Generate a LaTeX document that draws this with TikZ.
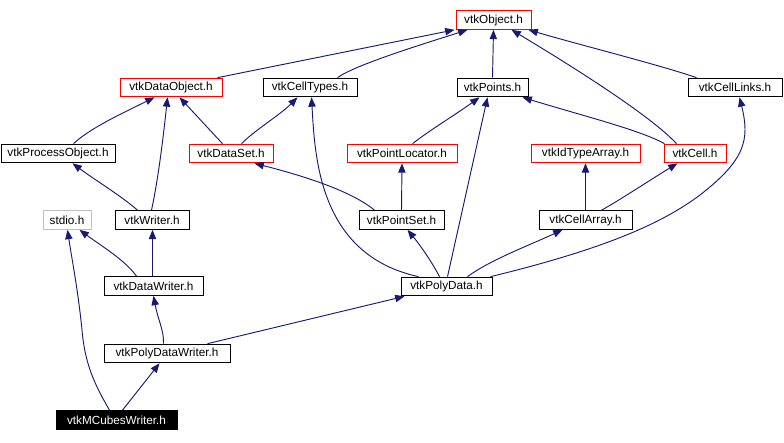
\documentclass[tikz,border=0pt]{standalone}
\usepackage{fontspec}
\setmainfont{Liberation Sans}
\usetikzlibrary{arrows.meta,calc}
\definecolor{edgecol}{HTML}{191970}
\definecolor{graybd}{HTML}{BFBFBF}
\tikzset{
  cls/.style={draw=black, line width=0.75pt, inner sep=0pt, minimum height=14pt, font=\fontsize{8.8}{10}\selectfont, fill=white},
  redcls/.style={cls, draw=red},
  graycls/.style={cls, draw=graybd},
  focus/.style={cls, fill=black, text=white},
  edge/.style={draw=edgecol, line width=0.7pt, {Triangle[length=7pt,width=5.5pt]}-}
}
\begin{document}
\begin{tikzpicture}[x=0.75pt,y=-0.75pt]
\useasboundingbox (0,0) rectangle (784,442);
% nodes
\node[redcls, minimum width=56.25pt] (obj) at (493.5,20) {vtkObject.h};
\node[redcls, minimum width=76.5pt] (dobj) at (171,87.5) {vtkDataObject.h};
\node[cls, minimum width=70.5pt] (ctypes) at (310,87.5) {vtkCellTypes.h};
\node[cls, minimum width=53.25pt] (pts) at (492.5,87.5) {vtkPoints.h};
\node[cls, minimum width=70.5pt] (clinks) at (735,87.5) {vtkCellLinks.h};
\node[cls, minimum width=85.5pt] (pobj) at (58,153.5) {vtkProcessObject.h};
\node[redcls, minimum width=63pt] (dset) at (231,153.5) {vtkDataSet.h};
\node[redcls, minimum width=82.5pt] (ploc) at (402,153.5) {vtkPointLocator.h};
\node[redcls, minimum width=81.75pt] (idta) at (585.5,153.5) {vtkIdTypeArray.h};
\node[redcls, minimum width=46.5pt] (cell) at (695,153.5) {vtkCell.h};
\node[graycls, minimum width=36pt] (stdio) at (67,220) {stdio.h};
\node[cls, minimum width=55.5pt] (wr) at (152,220) {vtkWriter.h};
\node[cls, minimum width=63.75pt] (pset) at (401.5,220) {vtkPointSet.h};
\node[cls, minimum width=69.75pt] (carr) at (585.5,220) {vtkCellArray.h};
\node[cls, minimum width=74.25pt] (dwr) at (153.5,286) {vtkDataWriter.h};
\node[cls, minimum width=68.25pt] (pdata) at (446.5,286.5) {vtkPolyData.h};
\node[cls, minimum width=94.5pt] (pdwr) at (167,353.5) {vtkPolyDataWriter.h};
\node[focus, minimum width=90.75pt] (mcw) at (116.5,420) {vtkMCubesWriter.h};
% edges (arrow at parent)
\draw[edge] ($(obj.south west)+(-1,0)$) -- ($(dobj.north west)+(98,0)$);
\draw[edge] ($(obj.south west)+(12,0)$) .. controls (420,45) and (355,65) .. ($(ctypes.north west)+(75,0)$);
\draw[edge] (obj.south) -- (pts.north);
\draw[edge] ($(obj.south west)+(56,0)$) .. controls (570,65) and (650,115) .. ($(cell.north west)+(13,0)$);
\draw[edge] ($(obj.south east)+(-3,0)$) .. controls (580,45) and (660,65) .. ($(clinks.north west)+(9,0)$);
\draw[edge] ($(dobj.south west)+(35,0)$) .. controls (125,112) and (90,128) .. ($(pobj.north west)+(73,0)$);
\draw[edge] ($(dobj.south west)+(48,0)$) .. controls (163,140) and (158,180) .. ($(wr.north west)+(37,0)$);
\draw[edge] ($(dobj.south west)+(60,0)$) -- ($(dset.north west)+(34,0)$);
\draw[edge] ($(ctypes.south west)+(35,0)$) .. controls (280,115) and (255,130) .. ($(dset.north west)+(53,0)$);
\draw[edge] ($(ctypes.south west)+(49,0)$) .. controls (315,160) and (320,255) .. ($(pdata.north west)+(18,0)$);
\draw[edge] ($(pts.south west)+(23,0)$) .. controls (455,115) and (430,130) .. ($(ploc.north west)+(66,0)$);
\draw[edge] ($(pts.south west)+(31,0)$) -- ($(pdata.north west)+(47,0)$);
\draw[edge] ($(pts.south east)+(-6,0)$) .. controls (580,115) and (640,130) .. ($(cell.north west)+(1,0)$);
\draw[edge] ($(dset.south west)+(66,0)$) .. controls (300,175) and (350,190) .. ($(pset.north west)+(16,0)$);
\draw[edge] (ploc.south) -- (pset.north);
\draw[edge] (idta.south) -- (carr.north);
\draw[edge] ($(cell.south west)+(14,0)$) .. controls (650,180) and (620,200) .. ($(carr.north west)+(63,0)$);
\draw[edge] ($(clinks.south west)+(52,0)$) .. controls (750,140) and (745,160) .. (700,195) .. controls (660,225) and (600,250) .. ($(pdata.north east)+(-2,0)$);
\draw[edge] ($(pobj.south west)+(72,0)$) .. controls (95,180) and (120,195) .. ($(wr.north west)+(23,0)$);
\draw[edge] ($(stdio.south west)+(37,0)$) .. controls (100,245) and (125,260) .. ($(dwr.north west)+(33,0)$);
\draw[edge] ($(wr.south west)+(38,0)$) -- ($(dwr.north west)+(49,0)$);
\draw[edge] ($(stdio.south west)+(25,0)$) .. controls (72,260) and (78,290) .. (82,330) .. controls (85,365) and (95,385) .. ($(mcw.north west)+(54,0)$);
\draw[edge] ($(pset.south west)+(49,0)$) .. controls (420,245) and (432,262) .. ($(pdata.north west)+(39,0)$);
\draw[edge] ($(carr.south west)+(24,0)$) .. controls (530,245) and (490,260) .. ($(pdata.north west)+(67,0)$);
\draw[edge] ($(dwr.south west)+(50,0)$) .. controls (158,320) and (164,330) .. ($(pdwr.north west)+(60,0)$);
\draw[edge] ($(pdata.south west)+(4,0)$) -- ($(pdwr.north west)+(104,0)$);
\draw[edge] ($(pdwr.south west)+(56,0)$) -- ($(mcw.north west)+(67,0)$);
\end{tikzpicture}
\end{document}
